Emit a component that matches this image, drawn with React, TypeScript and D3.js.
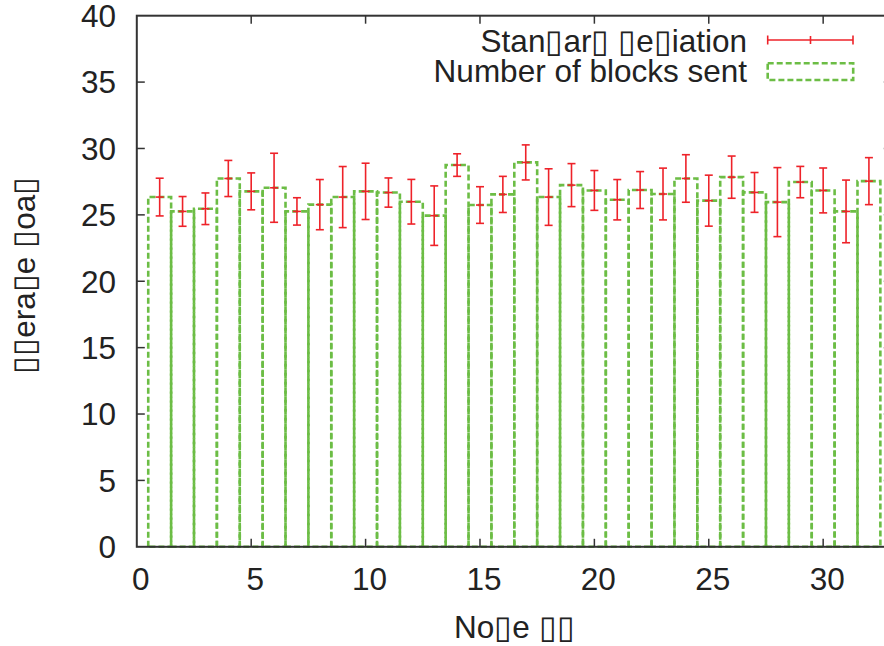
import React from "react";
import * as d3 from "d3";

const nodeIds = [1, 2, 3, 4, 5, 6, 7, 8, 9, 10, 11, 12, 13, 14, 15, 16, 17, 18, 19, 20, 21, 22, 23, 24, 25, 26, 27, 28, 29, 30, 31, 32];
const blocksSent = [26.34, 25.26, 25.46, 27.74, 26.77, 27.04, 25.26, 25.77, 26.34, 26.77, 26.68, 25.99, 24.94, 28.75, 25.74, 26.54, 28.95, 26.34, 27.24, 26.84, 26.14, 26.87, 26.57, 27.74, 26.07, 27.84, 26.69, 25.96, 27.47, 26.84, 25.26, 27.54];
const stdDev = [1.42, 1.12, 1.19, 1.36, 1.39, 2.6, 1.03, 1.89, 2.3, 2.12, 1.1, 1.68, 2.24, 0.85, 1.38, 1.36, 1.32, 2.13, 1.62, 1.5, 1.52, 1.39, 1.95, 1.79, 1.92, 1.59, 1.5, 2.6, 1.18, 1.69, 2.36, 1.77];
const xTicks = [0, 5, 10, 15, 20, 25, 30];
const yTicks = [0, 5, 10, 15, 20, 25, 30, 35, 40];
const legendLabels = ["Stan\u25AFar\u25AF \u25AFe\u25AFiation", "Number of blocks sent"];
const xLabel = "No\u25AFe \u25AF\u25AF";
const yLabel = "\u25AF\u25AFera\u25AFe \u25AFoa\u25AF";

const W = 884;
const H = 646;
const FONT = "'Liberation Sans', Arial, Helvetica, sans-serif";
const RED = "#ee2229";
const GREEN = "#6cbd45";
const AXIS = "#333";
const FS = 31.5;

export default function App() {
  const x = d3.scaleLinear().domain([0, 33]).range([136.8, 891.8]);
  const y = d3.scaleLinear().domain([0, 40]).range([546.8, 15.7]);
  const [x0, x1] = x.range();
  const [y0, y1] = y.range();
  const tick = 8;
  const cap = 4;

  return (
    <svg width={W} height={H} style={{ position: "absolute", left: 0, top: 0, background: "#fff" }} fontFamily={FONT}>
      <rect x={0} y={0} width={W} height={H} fill="#fff" />
      {/* bars */}
      {nodeIds.map((n, i) => {
        const l = x(n - 0.5);
        const r = x(n + 0.5);
        const t = y(blocksSent[i]);
        const b = y(0);
        return (
          <path key={"b" + n} d={`M${l},${b}L${l},${t}L${r},${t}L${r},${b}Z`} fill="none" stroke={GREEN} strokeWidth={2.6} strokeDasharray="6,3" />
        );
      })}
      {/* border */}
      <rect x={x0} y={y1} width={x1 - x0} height={y0 - y1} fill="none" stroke={AXIS} strokeWidth={2} />
      {yTicks.map((v) => (
        <g key={"yt" + v}>
          {v > 0 && v < 40 && <line x1={x0} x2={x0 + tick} y1={y(v)} y2={y(v)} stroke={AXIS} strokeWidth={1.5} />}
          {v > 0 && v < 40 && <line x1={x1} x2={x1 - tick} y1={y(v)} y2={y(v)} stroke={AXIS} strokeWidth={1.5} />}
          <text x={116} y={y(v)} dy="0.36em" textAnchor="end" fontSize={FS} fill="#222">{v}</text>
        </g>
      ))}
      {xTicks.map((v) => (
        <g key={"xt" + v}>
          {v > 0 && <line x1={x(v)} x2={x(v)} y1={y0} y2={y0 - tick} stroke={AXIS} strokeWidth={1.5} />}
          {v > 0 && <line x1={x(v)} x2={x(v)} y1={y1} y2={y1 + tick} stroke={AXIS} strokeWidth={1.5} />}
          <text x={x(v) + 4} y={589.5} textAnchor="middle" fontSize={FS} fill="#222">{v}</text>
        </g>
      ))}
      {/* error bars */}
      {nodeIds.map((n, i) => {
        const cx = x(n);
        const lo = y(blocksSent[i] - stdDev[i]);
        const hi = y(blocksSent[i] + stdDev[i]);
        const c = y(blocksSent[i]);
        return (
          <g key={"e" + n} stroke={RED} strokeWidth={1.6}>
            <line x1={cx} x2={cx} y1={lo} y2={hi} />
            <line x1={cx - cap} x2={cx + cap} y1={lo} y2={lo} />
            <line x1={cx - cap} x2={cx + cap} y1={hi} y2={hi} />
            <line x1={cx - cap} x2={cx + cap} y1={c} y2={c} />
          </g>
        );
      })}
      {/* legend */}
      <text x={747} y={51.5} textAnchor="end" fontSize={FS} fill="#222">{legendLabels[0]}</text>
      <text x={747} y={81.5} textAnchor="end" fontSize={FS} fill="#222">{legendLabels[1]}</text>
      <g stroke={RED} strokeWidth={1.6}>
        <line x1={767.7} x2={853} y1={40} y2={40} />
        <line x1={767.7} x2={767.7} y1={35.5} y2={44.5} />
        <line x1={853} x2={853} y1={35.5} y2={44.5} />
        <line x1={810.5} x2={810.5} y1={36} y2={44} />
      </g>
      <rect x={767.7} y={63.3} width={85.5} height={16.7} fill="none" stroke={GREEN} strokeWidth={2.6} strokeDasharray="6,3" />
      {/* axis labels */}
      <text x={(x0 + x1) / 2} y={638} textAnchor="middle" fontSize={FS} fill="#222">{xLabel}</text>
      <text transform={`translate(35,${(y0 + y1) / 2 - 6}) rotate(-90)`} textAnchor="middle" fontSize={FS} fill="#222">{yLabel}</text>
    </svg>
  );
}
